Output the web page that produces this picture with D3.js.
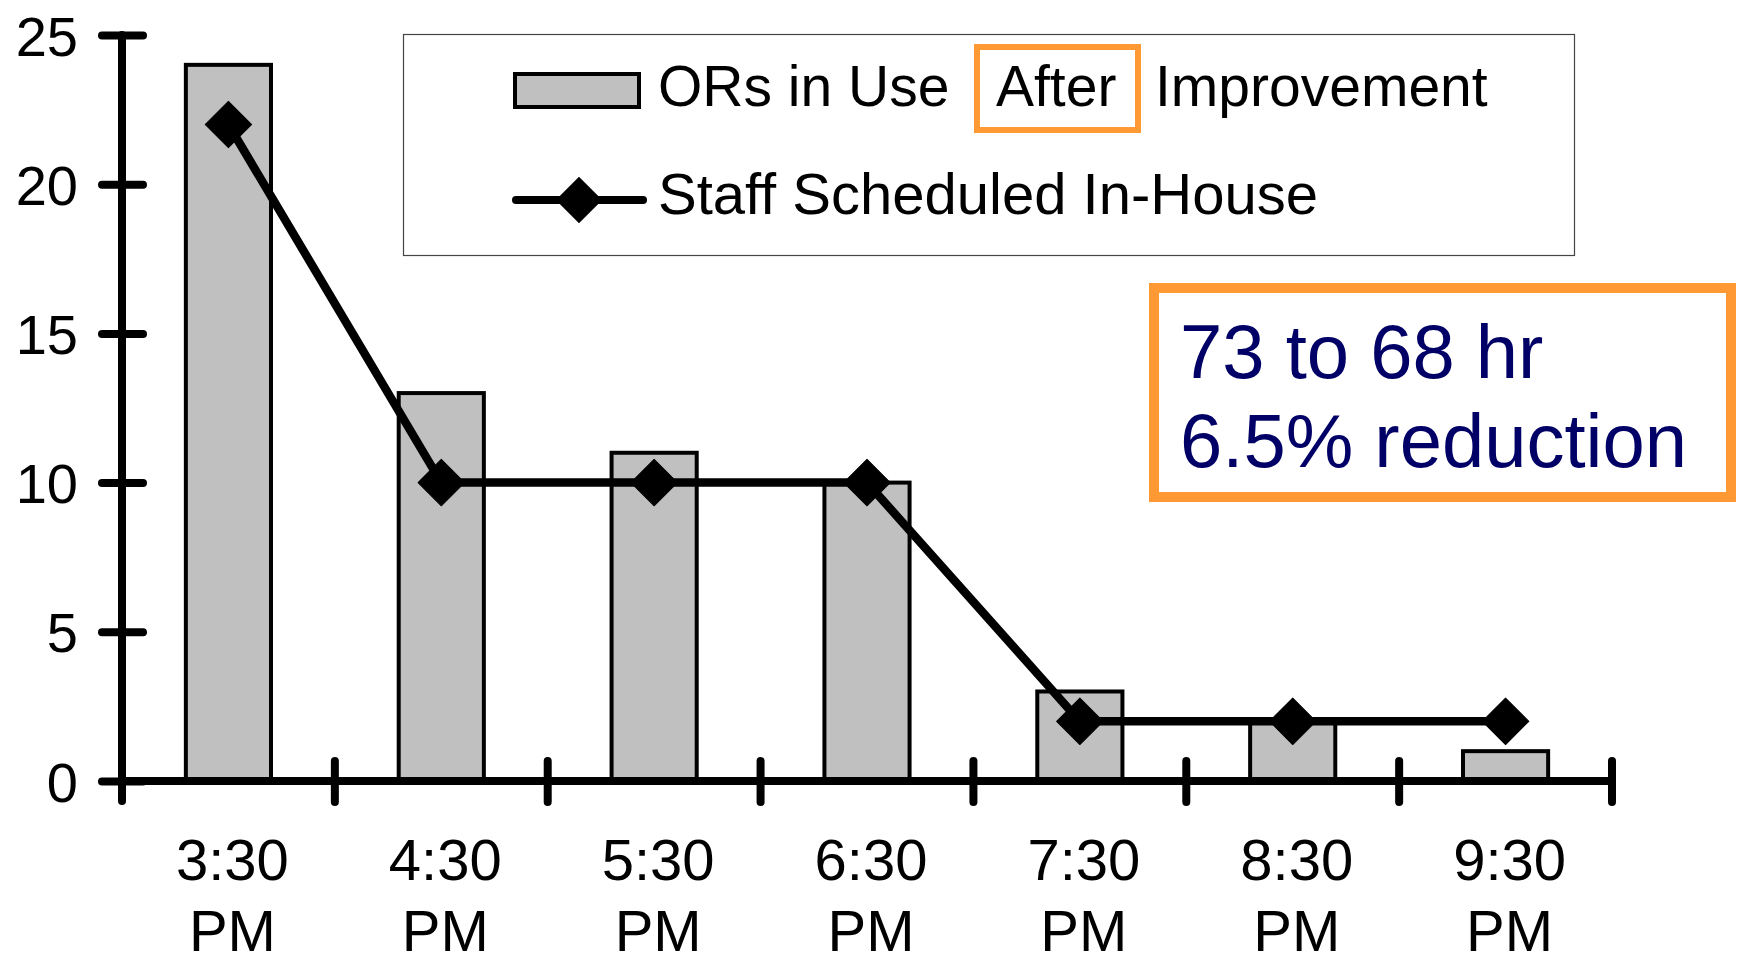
<!DOCTYPE html>
<html>
<head>
<meta charset="utf-8">
<script src="https://cdn.jsdelivr.net/npm/d3@7"></script>
<style>
  html, body { margin: 0; padding: 0; background: #fff; }
  svg { display: block; font-family: "Liberation Sans", Arial, sans-serif; }
</style>
</head>
<body>
<svg id="chart" width="1737" height="965"></svg>
<script>
// data
const times = ["3:30", "4:30", "5:30", "6:30", "7:30", "8:30", "9:30"];
const timeSuffix = "PM";
const orsInUse = [24, 13, 11, 10, 3, 2, 1];
const staffScheduled = [22, 10, 10, 10, 2, 2, 2];
const yTicks = [0, 5, 10, 15, 20, 25];
const legendLabels = ["ORs in Use", "After", "Improvement", "Staff Scheduled In-House"];
const noteLines = ["73 to 68 hr", "6.5% reduction"];

const orange = "#ff9933";
const svg = d3.select("#chart");

const x = d3.scaleBand()
  .domain(times)
  .range([122, 1612])
  .paddingInner(0.6)
  .paddingOuter(0.3);

const y = d3.scaleLinear().domain([0, 25]).range([781, 35]);

// bars
svg.append("g")
  .selectAll("rect")
  .data(orsInUse)
  .join("rect")
  .attr("x", (d, i) => x(times[i]))
  .attr("y", (d) => y(d))
  .attr("width", x.bandwidth())
  .attr("height", (d) => y(0) - y(d))
  .attr("fill", "#c0c0c0")
  .attr("stroke", "#000")
  .attr("stroke-width", 4);

// y axis
const yAxis = svg.append("g")
  .attr("transform", `translate(${x.range()[0]},0)`)
  .call(d3.axisLeft(y).tickValues(yTicks).tickSize(0).tickPadding(44));
yAxis.select(".domain").remove();
yAxis.selectAll(".tick text")
  .attr("font-size", 56)
  .attr("font-family", "Liberation Sans, Arial, sans-serif")
  .attr("fill", "#000")
  .attr("dy", "0.36em");
yAxis.selectAll(".tick")
  .append("line")
  .attr("x1", -20)
  .attr("x2", 21)
  .attr("stroke", "#000")
  .attr("stroke-width", 8)
  .attr("stroke-linecap", "round");
yAxis.append("line")
  .attr("y1", y(25))
  .attr("y2", y(0) + 20)
  .attr("stroke", "#000")
  .attr("stroke-width", 8)
  .attr("stroke-linecap", "round");

// x axis with ticks on the category boundaries
const half = (x.step() - x.bandwidth()) / 2;
const bounds = times.map((t) => x(t) - half).concat([x(times[times.length - 1]) + x.bandwidth() + half]);
const xAxis = svg.append("g");
xAxis.append("line")
  .attr("x1", x.range()[0])
  .attr("x2", x.range()[1])
  .attr("y1", y(0))
  .attr("y2", y(0))
  .attr("stroke", "#000")
  .attr("stroke-width", 8)
  .attr("stroke-linecap", "round");
xAxis.selectAll("line.tk")
  .data(bounds.slice(1))
  .join("line")
  .attr("class", "tk")
  .attr("x1", (d) => d)
  .attr("x2", (d) => d)
  .attr("y1", y(0) - 20)
  .attr("y2", y(0) + 21)
  .attr("stroke", "#000")
  .attr("stroke-width", 8)
  .attr("stroke-linecap", "round");
const lx = (d) => x(d) + x.bandwidth() / 2 + 4;
const xl = xAxis.selectAll("text")
  .data(times)
  .join("text")
  .attr("text-anchor", "middle")
  .attr("font-size", 58);
xl.append("tspan").attr("x", lx).attr("y", 880).text((d) => d);
xl.append("tspan").attr("x", lx).attr("y", 951).text(timeSuffix);

// staff line + diamonds
const cx = (i) => x(times[i]) + x.bandwidth() / 2;
svg.append("path")
  .datum(staffScheduled)
  .attr("d", d3.line().x((d, i) => cx(i)).y((d) => y(d)))
  .attr("fill", "none")
  .attr("stroke", "#000")
  .attr("stroke-width", 8.5);
const diamond = d3.symbol().type(d3.symbolSquare).size(1080);
svg.append("g")
  .selectAll("path")
  .data(staffScheduled)
  .join("path")
  .attr("d", diamond)
  .attr("transform", (d, i) => `translate(${cx(i)},${y(d)}) rotate(45)`)
  .attr("fill", "#000")
  .attr("stroke", "#000")
  .attr("stroke-width", 1)
  .attr("stroke-linejoin", "round");

// legend
const lg = svg.append("g");
lg.append("rect")
  .attr("x", 403.5).attr("y", 34.5).attr("width", 1171).attr("height", 221)
  .attr("fill", "#fff").attr("stroke", "#444").attr("stroke-width", 1.2);
lg.append("rect")
  .attr("x", 515).attr("y", 74).attr("width", 124).attr("height", 33)
  .attr("fill", "#c0c0c0").attr("stroke", "#000").attr("stroke-width", 4);
lg.append("rect")
  .attr("x", 977).attr("y", 47).attr("width", 161).attr("height", 83)
  .attr("fill", "none").attr("stroke", orange).attr("stroke-width", 6);
lg.append("text").attr("x", 658).attr("y", 106).attr("font-size", 57).text(legendLabels[0]);
lg.append("text").attr("x", 996).attr("y", 106).attr("font-size", 57).text(legendLabels[1]);
lg.append("text").attr("x", 1155).attr("y", 106).attr("font-size", 57).text(legendLabels[2]);
lg.append("line")
  .attr("x1", 516).attr("x2", 643).attr("y1", 200).attr("y2", 200)
  .attr("stroke", "#000").attr("stroke-width", 8).attr("stroke-linecap", "round");
lg.append("path")
  .attr("d", diamond)
  .attr("transform", "translate(579,200) rotate(45)")
  .attr("fill", "#000");
lg.append("text").attr("x", 658).attr("y", 214).attr("font-size", 58).text(legendLabels[3]);

// annotation box
const note = svg.append("g");
note.append("rect")
  .attr("x", 1154).attr("y", 288).attr("width", 577).attr("height", 209)
  .attr("fill", "#fff").attr("stroke", orange).attr("stroke-width", 10);
note.selectAll("text")
  .data(noteLines)
  .join("text")
  .attr("x", 1180)
  .attr("y", (d, i) => 378 + i * 89)
  .attr("font-size", 76)
  .attr("fill", "#000066")
  .text((d) => d);
</script>
</body>
</html>
